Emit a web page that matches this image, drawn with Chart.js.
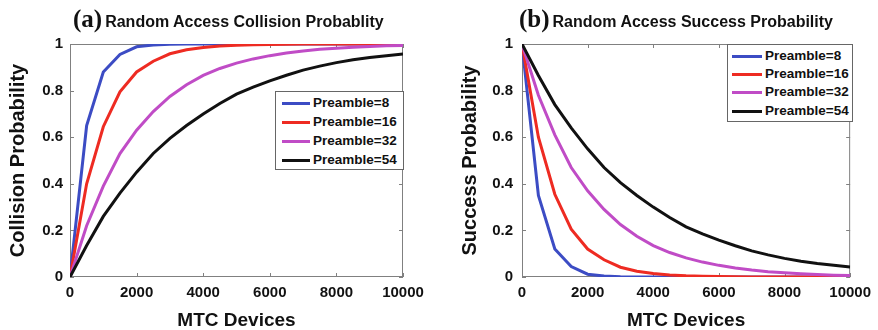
<!DOCTYPE html>
<html>
<head>
<meta charset="utf-8">
<script src="https://cdn.jsdelivr.net/npm/chart.js@4.4.1/dist/chart.umd.min.js"></script>
<style>
html,body{margin:0;padding:0;background:#fff;}
#wrap{position:relative;width:878px;height:330px;overflow:hidden;font-family:"Liberation Sans",Arial,sans-serif;}
canvas{position:absolute;top:0;}
.ttl{position:absolute;white-space:nowrap;font-weight:bold;color:#111;display:flex;align-items:baseline;}
.ttl .lt{font-family:"Liberation Serif","Times New Roman",serif;font-size:25px;line-height:1;margin-right:3px;}
.ttl .tx{font-size:16px;line-height:1;}
.leg{position:absolute;background:#fff;border:1px solid #666;box-sizing:border-box;z-index:5;}
.row{position:absolute;left:0;right:0;height:18px;}
.row .ln{position:absolute;top:8px;height:3px;}
.row .lb{position:absolute;top:0;line-height:18px;font-size:13.5px;font-weight:bold;color:#111;white-space:nowrap;}
</style>
</head>
<body>
<div id="wrap">
  <canvas id="c1" width="440" height="330" style="left:0px"></canvas>
  <canvas id="c2" width="438" height="330" style="left:440px"></canvas>
  <div class="ttl" style="left:73px;top:6px;"><span class="lt">(a)</span><span class="tx">Random Access Collision Probablity</span></div>
  <div class="ttl" style="left:519px;top:6px;"><span class="lt">(b)</span><span class="tx">Random Access Success Probability</span></div>
  <div class="leg" id="leg1" style="left:275px;top:91px;width:129px;height:79px;"></div>
  <div class="leg" id="leg2" style="left:727px;top:44px;width:126px;height:78px;"></div>
</div>
<script>
// ---- data ----
const devices = [0,500,1000,1500,2000,2500,3000,3500,4000,4500,5000,5500,6000,6500,7000,7500,8000,8500,9000,9500,10000];
const seriesNames = ['Preamble=8','Preamble=16','Preamble=32','Preamble=54'];
const seriesColors = ['#3c4cc4','#ee2b22','#c04cc6','#111111'];

const collision8  = [0,0.65,0.88,0.955,0.988,0.996,0.999,1,1,1,1,1,1,1,1,1,1,1,1,1,1];
const collision16 = [0,0.40,0.645,0.795,0.88,0.926,0.958,0.975,0.985,0.991,0.995,0.997,0.998,0.999,1,1,1,1,1,1,1];
const collision32 = [0,0.22,0.39,0.53,0.63,0.71,0.775,0.825,0.865,0.895,0.918,0.936,0.95,0.961,0.97,0.977,0.982,0.986,0.989,0.992,0.994];
const collision54 = [0,0.135,0.26,0.36,0.45,0.53,0.595,0.65,0.70,0.745,0.785,0.815,0.842,0.866,0.888,0.905,0.92,0.932,0.942,0.95,0.957];

const success8  = [1,0.35,0.12,0.045,0.012,0.004,0.001,0,0,0,0,0,0,0,0,0,0,0,0,0,0];
const success16 = [1,0.60,0.355,0.205,0.12,0.074,0.042,0.025,0.015,0.009,0.005,0.003,0.002,0.001,0,0,0,0,0,0,0];
const success32 = [1,0.78,0.61,0.47,0.37,0.29,0.225,0.175,0.135,0.105,0.082,0.064,0.05,0.039,0.03,0.023,0.018,0.014,0.011,0.008,0.006];
const success54 = [1,0.865,0.74,0.64,0.55,0.47,0.405,0.35,0.30,0.255,0.215,0.185,0.158,0.134,0.112,0.095,0.08,0.068,0.058,0.05,0.043];

const xTickStep = 2000;
const yTickStep = 0.2;

// ---- helpers ----
function pts(arr){ return devices.map((d,i)=>({x:d,y:arr[i]})); }

const framePlugin = {
  id:'frame',
  beforeDatasetsDraw(chart){
    const {ctx, chartArea:a, scales} = chart;
    ctx.save();
    ctx.strokeStyle = '#808080';
    ctx.lineWidth = 1;
    ctx.strokeRect(a.left+0.5, a.top+0.5, a.right-a.left-1, a.bottom-a.top-1);
    const L = 4;
    ctx.beginPath();
    scales.x.ticks.forEach(t=>{
      const p = Math.round(scales.x.getPixelForValue(t.value))+0.5;
      ctx.moveTo(p,a.bottom); ctx.lineTo(p,a.bottom-L);
      ctx.moveTo(p,a.top); ctx.lineTo(p,a.top+L);
    });
    scales.y.ticks.forEach(t=>{
      const p = Math.round(scales.y.getPixelForValue(t.value))+0.5;
      ctx.moveTo(a.left,p); ctx.lineTo(a.left+L,p);
      ctx.moveTo(a.right,p); ctx.lineTo(a.right-L,p);
    });
    ctx.stroke();
    ctx.restore();
  }
};

function makeChart(id, arrays, cfg){
  const datasets = arrays.map((arr,i)=>({
    label: seriesNames[i],
    data: pts(arr),
    borderColor: seriesColors[i],
    backgroundColor: seriesColors[i],
    borderWidth: 3,
    pointRadius: 0,
    tension: 0,
    fill: false,
    order: arrays.length - i
  }));
  return new Chart(document.getElementById(id), {
    type:'line',
    data:{datasets},
    plugins:[framePlugin],
    options:{
      responsive:false,
      devicePixelRatio:1,
      animation:false,
      events:[],
      layout:{padding:{left:0,right:cfg.padRight,top:44,bottom:0}},
      plugins:{legend:{display:false},tooltip:{enabled:false},title:{display:false}},
      scales:{
        x:{
          type:'linear', min:0, max:10000,
          grid:{display:false, drawTicks:false},
          border:{display:false},
          ticks:{stepSize:xTickStep, padding:7, color:'#111', maxRotation:0,
                 callback:(v)=>String(Math.round(v)),
                 font:{family:'"Liberation Sans", Arial, sans-serif', size:15, weight:'bold'}},
          title:{display:true, text:'MTC Devices', color:'#111', padding:{top:0,bottom:0},
                 font:{family:'"Liberation Sans", Arial, sans-serif', size:19, weight:'bold', lineHeight:1}},
          afterFit(s){ s.height = 53; }
        },
        y:{
          type:'linear', min:0, max:1,
          grid:{display:false, drawTicks:false},
          border:{display:false},
          ticks:{stepSize:yTickStep, padding:cfg.yPad, color:'#111',
                 callback:(v)=>String(Number(v.toFixed(1))),
                 font:{family:'"Liberation Sans", Arial, sans-serif', size:15, weight:'bold'}},
          title:{display:true, text:cfg.yTitle, color:'#111', padding:{top:cfg.yTitlePad,bottom:0},
                 font:{family:'"Liberation Sans", Arial, sans-serif', size:20, weight:'bold', lineHeight:1}},
          afterFit(s){ s.width = cfg.yWidth; }
        }
      }
    }
  });
}

makeChart('c1',[collision8,collision16,collision32,collision54],
  {padRight:37, yWidth:70, yPad:7, yTitle:'Collision Probability', yTitlePad:8});
makeChart('c2',[success8,success16,success32,success54],
  {padRight:25, yWidth:82, yPad:9, yTitle:'Success Probability', yTitlePad:20});

// ---- legends ----
function buildLegend(id, rowTops, lineLeft, lineW, textLeft){
  const el = document.getElementById(id);
  seriesNames.forEach((n,i)=>{
    const r = document.createElement('div');
    r.className='row'; r.style.top = rowTops[i]+'px';
    const ln = document.createElement('div');
    ln.className='ln'; ln.style.left=lineLeft+'px'; ln.style.width=lineW+'px'; ln.style.background=seriesColors[i];
    const lb = document.createElement('div');
    lb.className='lb'; lb.style.left=textLeft+'px'; lb.textContent=n;
    r.appendChild(ln); r.appendChild(lb); el.appendChild(r);
  });
}
buildLegend('leg1',[2,21,40,59],6,28,37);
buildLegend('leg2',[2,20,38,57],4,30,37);
</script>
</body>
</html>
